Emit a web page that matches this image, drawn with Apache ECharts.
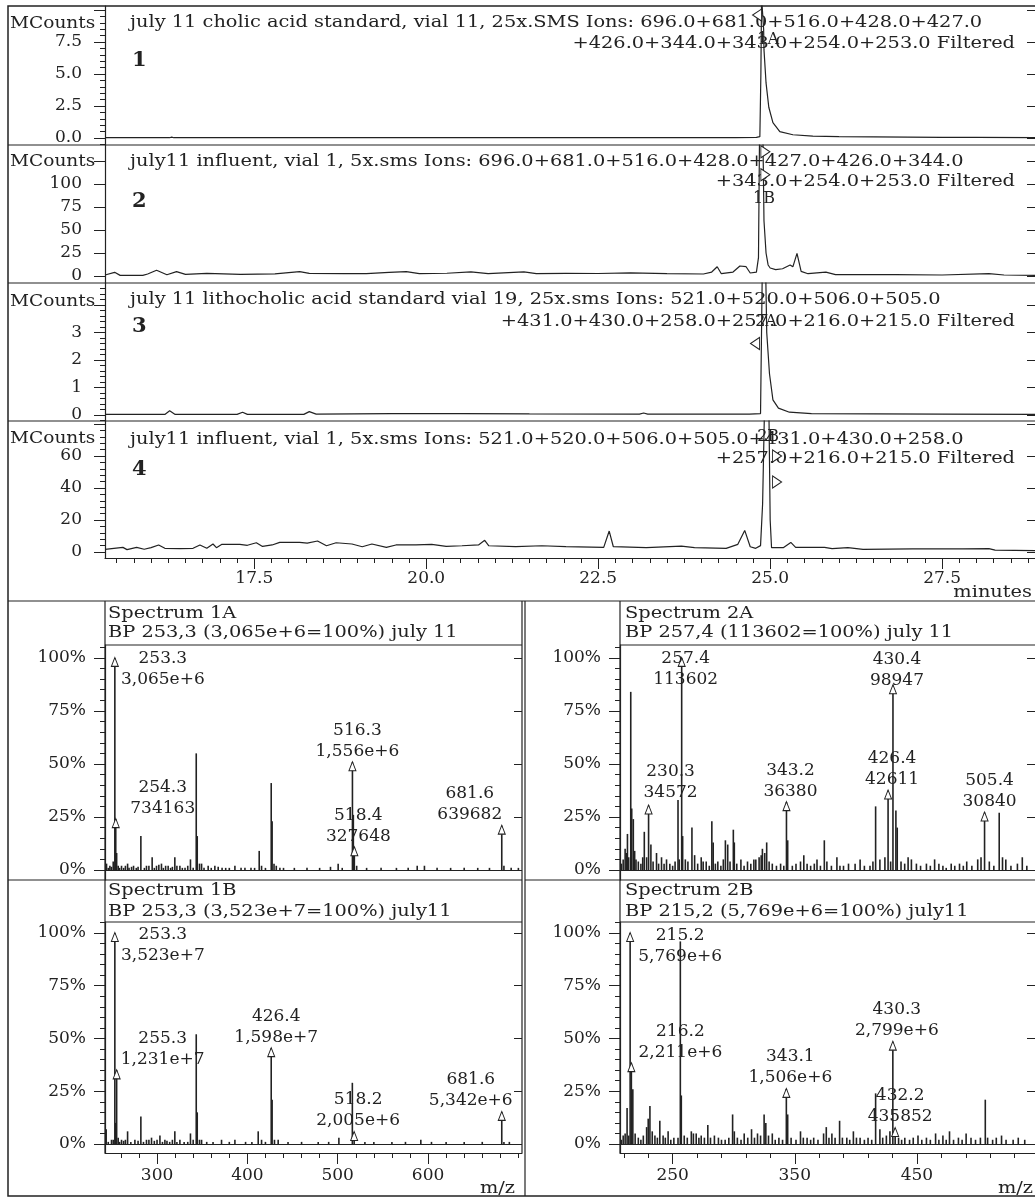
<!DOCTYPE html>
<html>
<head>
<meta charset="utf-8">
<title>Bile acid chromatograms and spectra</title>
<script src="https://cdn.jsdelivr.net/npm/echarts@6/dist/echarts.min.js"></script>
<style>
  html, body { margin: 0; padding: 0; background: #fff; }
  #main { width: 1035px; height: 1198px; }
</style>
</head>
<body>
<div id="main"></div>
<script>
  // chromatogram 1: cholic acid standard (MCounts vs minutes)
  var chromTime1 = [15.33, 16.0, 16.27, 16.3, 16.33, 17.5, 19.0, 20.5, 22.0, 23.5, 24.5, 24.8, 24.85, 24.865, 24.875, 24.9, 24.905, 24.91, 24.94, 24.98, 25.04, 25.14, 25.33, 25.62, 26.0, 26.5, 27.0, 27.5, 28.0, 28.85]
  var chromInt1 = [0.02, 0.02, 0.02, 0.07, 0.02, 0.02, 0.02, 0.02, 0.02, 0.03, 0.03, 0.04, 0.1, 5.0, 11, 11, 8.5, 6.9, 4.3, 2.4, 1.2, 0.5, 0.25, 0.15, 0.1, 0.08, 0.06, 0.05, 0.04, 0.03]
  // chromatogram 2: influent, cholic acid ions
  var chromTime2 = [15.33, 15.47, 15.55, 15.88, 15.95, 16.08, 16.23, 16.37, 16.5, 16.81, 17.3, 17.8, 18.16, 18.3, 18.8, 19.13, 19.46, 19.71, 19.9, 20.3, 20.65, 20.9, 21.42, 21.6, 22.03, 22.5, 22.97, 23.5, 24.03, 24.15, 24.23, 24.29, 24.46, 24.56, 24.65, 24.71, 24.8, 24.83, 24.845, 24.895, 24.91, 24.94, 24.97, 25.0, 25.08, 25.18, 25.29, 25.33, 25.39, 25.45, 25.55, 25.81, 25.95, 26.82, 27.5, 28.18, 28.4, 28.85]
  var chromInt2 = [1.1, 4, 0.7, 0.7, 2.2, 6.2, 1.4, 4.7, 1.8, 2.9, 1.8, 2.4, 4.7, 2.9, 2.5, 2.5, 4, 4.7, 2.5, 3, 4.4, 2.5, 4.4, 2.5, 2.9, 2.7, 3.3, 2.6, 2.2, 4.3, 10.1, 2.5, 4.3, 10.9, 10.1, 3.3, 4.3, 20, 150, 150, 60, 25, 12, 8.7, 7, 7.9, 12, 10, 24.6, 5, 2.5, 4.3, 1.5, 1.5, 1.1, 2.5, 1.1, 0.7]
  // chromatogram 3: lithocholic acid standard
  var chromTime3 = [15.33, 16.2, 16.27, 16.35, 17.25, 17.33, 17.4, 18.22, 18.3, 18.4, 19.5, 20.5, 21.5, 23.1, 23.16, 23.22, 24.7, 24.86, 24.885, 24.935, 24.95, 24.99, 25.04, 25.12, 25.28, 25.6, 26.5, 27.5, 28.85]
  var chromInt3 = [0.02, 0.02, 0.15, 0.02, 0.02, 0.1, 0.02, 0.02, 0.12, 0.03, 0.05, 0.05, 0.04, 0.03, 0.07, 0.03, 0.03, 0.05, 5.2, 5.2, 3.0, 1.5, 0.55, 0.25, 0.1, 0.05, 0.04, 0.03, 0.02]
  // chromatogram 4: influent, lithocholic acid ions
  var chromTime4 = [15.33, 15.59, 15.65, 15.79, 15.9, 16.0, 16.11, 16.2, 16.42, 16.61, 16.71, 16.81, 16.9, 16.95, 17.03, 17.29, 17.4, 17.53, 17.62, 17.76, 17.87, 18.16, 18.27, 18.42, 18.55, 18.69, 18.92, 19.07, 19.21, 19.42, 19.56, 19.85, 20.08, 20.29, 20.52, 20.76, 20.85, 20.91, 21.3, 21.68, 22.03, 22.58, 22.66, 22.72, 23.2, 23.71, 23.9, 24.36, 24.53, 24.63, 24.71, 24.79, 24.86, 24.89, 24.92, 24.98, 25.0, 25.02, 25.19, 25.3, 25.37, 25.79, 25.9, 26.13, 26.35, 27.07, 27.8, 28.18, 28.27, 28.85]
  var chromInt4 = [1.7, 2.9, 1.5, 2.9, 1.7, 2.7, 4.4, 2.3, 2.1, 2.3, 4.4, 2.3, 5.0, 2.7, 4.8, 4.8, 4.2, 5.8, 3.5, 4.4, 6.0, 6.0, 5.6, 6.9, 3.9, 5.8, 5.0, 3.3, 5.0, 2.9, 4.4, 4.4, 4.8, 3.5, 3.9, 4.4, 7.3, 3.9, 3.3, 3.9, 3.3, 2.9, 13.1, 3.3, 2.7, 3.7, 2.7, 2.3, 4.8, 13.5, 3.3, 2.3, 4, 30, 95, 95, 20, 2.7, 2.7, 6.0, 2.9, 2.9, 2.1, 2.7, 1.7, 1.9, 1.9, 2.1, 1.2, 0.8]

  var chromTitleA = [
    'july 11 cholic acid standard, vial 11, 25x.SMS Ions: 696.0+681.0+516.0+428.0+427.0',
    'july11 influent, vial 1, 5x.sms Ions: 696.0+681.0+516.0+428.0+427.0+426.0+344.0',
    'july 11 lithocholic acid standard vial 19, 25x.sms Ions: 521.0+520.0+506.0+505.0',
    'july11 influent, vial 1, 5x.sms Ions: 521.0+520.0+506.0+505.0+431.0+430.0+258.0'
  ]
  var chromTitleB = [
    '+426.0+344.0+343.0+254.0+253.0 Filtered',
    '+343.0+254.0+253.0 Filtered',
    '+431.0+430.0+258.0+257.0+216.0+215.0 Filtered',
    '+257.0+216.0+215.0 Filtered'
  ]
  // spectrum markers on the chromatograms
  var chromMarkText = ['1A', '1B', '2A', '2B']
  var chromMarkTextT = [24.97, 24.91, 24.94, 24.97]
  var chromMarkTextV = [7.7, 84, 3.4, 72]
  var chromArrowT = [[24.81], [24.93, 24.93], [24.78], [25.1, 25.1]]
  var chromArrowV = [[9.6], [135, 110], [2.6], [60, 43.75]]
  var chromArrowDir = ['left', 'right', 'left', 'right']

  // mass spectra: [m/z, relative intensity %]
  var spec1A = [[243.5, 2], [244.1, 3], [246, 1], [247.8, 2], [249.5, 1.5], [251.5, 4], [255.3, 8], [257, 2], [258.5, 1], [260.7, 2], [263, 1], [265, 2], [267.4, 3], [269, 1], [271.8, 1.5], [274, 2], [277, 1], [279, 1.5], [282.1, 16], [286, 1], [288.3, 2], [291, 2], [294.6, 6], [297, 1], [299.4, 2], [302, 2.5], [304.9, 3], [307, 1], [309.5, 2], [312.3, 2], [315, 1], [317, 1.5], [319.7, 6], [322, 2], [325.3, 2], [328, 1], [331, 1], [334, 2], [337, 5], [340, 1], [343.4, 55], [344.5, 16], [347, 3], [349.3, 3], [352, 1], [356.6, 2], [360, 1], [364, 2], [367.7, 1.5], [372, 1], [376, 1], [380, 1], [386.2, 2], [393, 1], [397.3, 1], [404, 1], [408, 1], [413.1, 9], [415.7, 2], [420, 1], [426.4, 41], [427.4, 23], [429.5, 3], [432, 2], [436, 1], [440, 1], [452, 1], [466, 1], [480, 1], [492, 1.5], [500.5, 3], [505, 1], [517.3, 26], [521, 2], [532, 1], [548, 1], [565, 1], [578, 1], [588, 2], [596, 2], [610, 1], [625, 1], [640, 1], [655, 1], [668, 1], [684, 2], [692, 1], [700, 1]]
  var spec1B = [[243.7, 7], [246, 1], [249.6, 2], [251.5, 2], [254.3, 10], [257, 3], [258.5, 1], [260.7, 2], [263, 1.5], [265, 2], [267.4, 6], [271, 1], [275.5, 2], [279, 1.5], [282.1, 13], [285, 1], [288.3, 2], [291, 2], [293.9, 3], [297, 1.5], [300, 2], [303.2, 4], [306, 1], [308.7, 2], [311, 1.5], [314, 1], [317, 2], [319.7, 6], [322, 1], [325.3, 2], [330, 1], [334, 1], [337, 5], [340, 2], [343.4, 52], [344.5, 15], [347, 2], [349.3, 2], [355, 1], [362, 1], [371.4, 2], [380, 1], [386.2, 2], [398, 1], [405, 1], [412, 6], [415.7, 2], [420, 1], [427.4, 21], [430, 2], [434.1, 2], [445, 1], [460, 1], [478.4, 1], [490, 1], [501.3, 3], [516.2, 29], [530.1, 1], [540, 1], [560, 1], [575, 1], [592, 2], [603.8, 1], [620, 1], [640, 1], [660, 1], [684, 1], [690, 1]]
  var spec2A = [[208, 3], [209.5, 5], [211.1, 10], [212, 8], [213, 17], [214, 6], [215.7, 84], [216.5, 29], [217.8, 24], [218.9, 9], [220, 5], [221.9, 4], [224, 3], [225.5, 6], [226.8, 18], [228.7, 6], [232.2, 12], [234, 4], [236.8, 8], [238.5, 3], [240.9, 6], [243, 3], [245, 5], [247.7, 3], [250, 2], [252, 4], [254.4, 33], [255.4, 5], [258.2, 16], [260.4, 5], [262.5, 4], [265.8, 20], [268, 7], [270.5, 3], [273.4, 6], [275, 4], [277.5, 4], [280, 2], [282.1, 23], [283.2, 13], [285, 3], [287, 4], [289.5, 2], [291.5, 5], [293.2, 14], [295.1, 12], [297, 4], [299.7, 19], [300.5, 13], [302.5, 3], [305.9, 5], [308.5, 2], [311.3, 4], [314, 3], [316.5, 5], [318.1, 5], [320.8, 6], [322.5, 7], [323.5, 10], [325.4, 8], [327, 13], [329, 4], [331.6, 3], [335, 2], [338.4, 3], [341, 2], [344.2, 14], [348, 2], [351, 3], [354.7, 4], [357.4, 7], [360.1, 3], [363, 2], [366, 3], [368.2, 5], [371, 2], [374.2, 14], [376.3, 4], [380, 2], [384.5, 6], [387, 2], [389.9, 2], [394, 3], [399.4, 3], [403.5, 5], [407, 2], [411.6, 2], [414, 4], [416.2, 30], [419.7, 5], [423.8, 6], [428.5, 4], [432.8, 28], [433.9, 20], [437, 4], [440, 3], [442.8, 6], [445.5, 5], [449.6, 3], [453, 2], [457.8, 3], [461, 2], [464.5, 5], [468, 3], [471.3, 2], [474, 1], [478.1, 3], [481, 2], [484.9, 3], [488, 2], [490.8, 4], [495, 2], [499.8, 5], [502.5, 6], [509.3, 4], [513, 2], [517.4, 27], [520.1, 6], [522.8, 5], [527, 2], [532.3, 3], [536.3, 6], [540, 2]]
  var spec2B = [[208, 2], [209.5, 4], [211.1, 5], [212.7, 17], [214, 4], [217.4, 26], [219.3, 5], [221.9, 3], [224, 2], [226, 4], [228.7, 8], [230, 12], [231.4, 18], [233.3, 6], [235.5, 4], [237.5, 3], [239.5, 11], [242.2, 4], [244, 3], [246.3, 6], [248.5, 2], [251, 3], [254.4, 3], [256.3, 96], [257.1, 23], [259.5, 4], [262, 3], [265.3, 6], [267, 5], [269.3, 5], [271.5, 3], [273.4, 4], [276, 3], [278.8, 9], [281, 3], [284.2, 4], [287.5, 3], [290, 2], [293, 2], [296, 3], [299.1, 14], [300.5, 6], [303, 3], [306, 2], [308.6, 5], [311.5, 3], [314.6, 7], [317, 3], [319.5, 5], [322, 4], [324.9, 14], [326.3, 10], [328.5, 4], [331.6, 5], [334, 2], [337, 3], [340, 2], [344.2, 14], [347, 3], [351, 2], [354.7, 6], [357, 3], [360.1, 3], [363, 2], [365.5, 3], [369, 2], [373.6, 5], [375.8, 8], [378, 3], [380.4, 5], [383, 3], [386.7, 11], [389, 3], [392.6, 3], [395, 2], [398, 6], [400.5, 3], [403.5, 3], [407, 2], [410, 3], [413, 2], [416.2, 24], [419.7, 7], [422, 3], [425, 4], [427.9, 6], [435, 3], [437.5, 2], [440.1, 3], [444, 2], [447, 3], [450.9, 4], [454, 2], [457.8, 3], [461, 2], [465.3, 5], [468, 2], [471.3, 4], [474, 2], [476.7, 6], [480, 2], [484, 3], [487, 2], [490.3, 5], [494.3, 3], [498, 2], [502, 3], [506, 21], [507.9, 3], [512, 2], [515, 3], [519.3, 4], [523, 2], [528.8, 2], [533, 3], [538.3, 2]]

  // labelled peaks
  var peak1AMz = [253.3, 254.3, 516.3, 518.4, 681.6]
  var peak1AInt = [100, 24, 50.8, 10.7, 20.9]
  var peak1AText = ['253.3\n3,065e+6', '254.3\n734163', '516.3\n1,556e+6', '518.4\n327648', '681.6\n639682']
  var peak1BMz = [253.3, 255.3, 426.4, 518.2, 681.6]
  var peak1BInt = [100, 34.9, 45.4, 5.7, 15.2]
  var peak1BText = ['253.3\n3,523e+7', '255.3\n1,231e+7', '426.4\n1,598e+7', '518.2\n2,005e+6', '681.6\n5,342e+6']
  var peak2AMz = [230.3, 257.4, 343.2, 426.4, 430.4, 505.4]
  var peak2AInt = [30.4, 100, 32.0, 37.5, 87.1, 27.1]
  var peak2AText = ['230.3\n34572', '257.4\n113602', '343.2\n36380', '426.4\n42611', '430.4\n98947', '505.4\n30840']
  var peak2BMz = [215.2, 216.2, 343.1, 430.3, 432.2]
  var peak2BInt = [100, 38.3, 26.1, 48.5, 7.6]
  var peak2BText = ['215.2\n5,769e+6', '216.2\n2,211e+6', '343.1\n1,506e+6', '430.3\n2,799e+6', '432.2\n435852']

  var specName = ['Spectrum 1A', 'Spectrum 1B', 'Spectrum 2A', 'Spectrum 2B']
  var specBP = ['BP 253,3 (3,065e+6=100%) july 11', 'BP 253,3 (3,523e+7=100%) july11', 'BP 257,4 (113602=100%) july 11', 'BP 215,2 (5,769e+6=100%) july11']

  // label shifts (px) so the peak labels sit as in the original
  var shift1A = [[48, 33], [47, 0], [5, 0], [4, 0], [-32, 0]]
  var shift1B = [[48, 34], [46, 0], [5, 0], [4, 0], [-31, 0]]
  var shift2A = [[22, -2], [4, 33], [4, 0], [4, 0], [4, 6], [5, 0]]
  var shift2B = [[50, 35], [49, 0], [4, 0], [4, 0], [5, 0]]

  var FONT = 'DejaVu Serif'
  var INK = '#222'
  var STRETCH = 1.21   // the original lettering is drawn wide

  function zip (xs, ys) {
    return xs.map(function (x, i) { return [x, ys[i]] })
  }
  function steps (a, b, s) {
    var out = []
    for (var v = a; v <= b + 1e-9; v += s) out.push(Math.round(v * 1000) / 1000)
    return out
  }

  var grid = []
  var xAxis = []
  var yAxis = []
  var series = []
  var graphic = []

  function addGrid (g) { grid.push(g); return grid.length - 1 }
  function addX (o) { xAxis.push(o); return xAxis.length - 1 }
  function addY (o) { yAxis.push(o); return yAxis.length - 1 }

  function valueY (gi, min, max, labels, ticks, minor, fmt, margin, rightInside) {
    var main = addY({
      gridIndex: gi, type: 'value', min: min, max: max, position: 'left',
      axisLine: { show: true, onZero: false, lineStyle: { color: INK, width: 1.2 } },
      axisTick: { show: true, customValues: ticks, length: 11, lineStyle: { color: INK } },
      axisLabel: { show: true, customValues: labels, formatter: fmt, margin: margin, fontFamily: FONT, fontSize: 17, color: INK },
      splitLine: { show: false }
    })
    if (minor.length) {
      addY({
        gridIndex: gi, type: 'value', min: min, max: max, position: 'left',
        axisLine: { show: false, onZero: false },
        axisTick: { show: true, customValues: minor, length: 5, lineStyle: { color: INK } },
        axisLabel: { show: false }, splitLine: { show: false }
      })
    }
    addY({
      gridIndex: gi, type: 'value', min: min, max: max, position: 'right',
      axisLine: { show: false, onZero: false },
      axisTick: { show: true, inside: rightInside, customValues: ticks, length: 8, lineStyle: { color: INK } },
      axisLabel: { show: false }, splitLine: { show: false }
    })
    return main
  }

  function hiddenX (gi, min, max) {
    return addX({ gridIndex: gi, type: 'value', min: min, max: max, show: false })
  }

  function valueX (gi, min, max, majors, minors, fmt, margin) {
    var main = addX({
      gridIndex: gi, type: 'value', min: min, max: max, position: 'bottom',
      axisLine: { show: true, onZero: false, lineStyle: { color: INK, width: 1.2 } },
      axisTick: { show: true, customValues: majors, length: 11, lineStyle: { color: INK } },
      axisLabel: { show: true, customValues: majors, formatter: fmt, margin: margin, fontFamily: FONT, fontSize: 17, color: INK },
      splitLine: { show: false }
    })
    addX({
      gridIndex: gi, type: 'value', min: min, max: max, position: 'bottom',
      axisLine: { show: false, onZero: false },
      axisTick: { show: true, customValues: minors, length: 5, lineStyle: { color: INK } },
      axisLabel: { show: false }, splitLine: { show: false }
    })
    return main
  }

  // free text, anchored at (x, middle y), widened like the original print
  function text (t, x, y, align, size, weight, stretch) {
    graphic.push({
      type: 'text', silent: true, x: x, y: y, scaleX: stretch || STRETCH,
      style: {
        text: t, fill: INK, fontFamily: FONT, fontSize: size || 16, fontWeight: weight || 'normal',
        align: align || 'left', verticalAlign: 'middle'
      }
    })
  }

  // ---- chromatograms ----
  var chromTimes = [chromTime1, chromTime2, chromTime3, chromTime4]
  var chromInts = [chromInt1, chromInt2, chromInt3, chromInt4]
  var chromBox = [[6, 139], [145, 138], [283, 138], [421, 137]]
  var chromY = [
    { min: -0.55, max: 10.31, labels: [0, 2.5, 5, 7.5], ticks: [0, 2.5, 5, 7.5, 10], minor: steps(-0.5, 10, 0.5), fmt: function (v) { return v.toFixed(1) } },
    { min: -7.6, max: 142.4, labels: [0, 25, 50, 75, 100], ticks: [0, 25, 50, 75, 100, 125], minor: [], fmt: function (v) { return String(v) } },
    { min: -0.22, max: 4.8, labels: [0, 1, 2, 3], ticks: [0, 1, 2, 3, 4], minor: steps(-0.2, 4.6, 0.2), fmt: function (v) { return String(v) } },
    { min: -3.75, max: 81.9, labels: [0, 20, 40, 60], ticks: [0, 20, 40, 60, 80], minor: steps(0, 80, 4), fmt: function (v) { return String(v) } }
  ]
  var tMin = 15.33
  var tMax = 28.85
  var mcountsY = [24, 162, 302, 439]
  var numberY = [61, 202, 327, 470]
  var titleAY = [23, 162, 300, 440]
  var titleBY = [44, 182, 322, 459]

  for (var i = 0; i < 4; i++) {
    var gi = addGrid({ left: 105, top: chromBox[i][0], width: 933, height: chromBox[i][1] })
    var xi = i < 3 ? hiddenX(gi, tMin, tMax)
      : valueX(gi, tMin, tMax, [17.5, 20, 22.5, 25, 27.5], steps(15.5, 28.75, 0.25), function (v) { return v.toFixed(1) }, 12)
    var c = chromY[i]
    var yi = valueY(gi, c.min, c.max, c.labels, c.ticks, c.minor, c.fmt, 23, true)

    var marks = chromArrowT[i].map(function (t, k) {
      return {
        coord: [t, chromArrowV[i][k]], symbol: 'triangle',
        symbolRotate: chromArrowDir[i] === 'left' ? 90 : -90, symbolSize: [12, 9],
        itemStyle: { color: '#fff', borderColor: INK, borderWidth: 1, opacity: 1 },
        label: { show: false }
      }
    })
    marks.push({
      coord: [chromMarkTextT[i], chromMarkTextV[i]], symbol: 'circle', symbolSize: 1,
      itemStyle: { color: 'transparent', opacity: 1 },
      label: { show: true, position: 'inside', formatter: chromMarkText[i], fontFamily: FONT, fontSize: 16, color: INK }
    })

    series.push({
      type: 'line', xAxisIndex: xi, yAxisIndex: yi, data: zip(chromTimes[i], chromInts[i]),
      showSymbol: false, symbol: 'none', silent: true, clip: true,
      lineStyle: { color: INK, width: 1.2 },
      markPoint: { silent: true, data: marks }
    })

    text('MCounts', 10, mcountsY[i], 'left', 16, 'normal', 1.16)
    text(String(i + 1), 132, numberY[i], 'left', 20, 'bold', 1.05)
    text(chromTitleA[i], 130, titleAY[i])
    text(chromTitleB[i], 1015, titleBY[i], 'right')
  }
  text('minutes', 1032, 593, 'right')

  // ---- spectra ----
  function spectrum (gi, xi, yi, sticks, mz, inten, labels, shifts) {
    series.push({
      type: 'bar', xAxisIndex: xi, yAxisIndex: yi, barWidth: 1.6, silent: true,
      data: sticks.concat(zip(mz, inten)),
      itemStyle: { color: INK },
      markLine: {
        silent: true, symbol: ['none', 'none'], label: { show: false },
        lineStyle: { color: INK, width: 1.2, type: 'solid' },
        data: [{ yAxis: 0 }]
      }
    })
    series.push({
      type: 'scatter', xAxisIndex: xi, yAxisIndex: yi, silent: true, z: 3,
      data: zip(mz, inten), symbol: 'triangle', symbolSize: [7, 9], symbolOffset: [0, 4],
      itemStyle: { color: '#fff', borderColor: INK, borderWidth: 1, opacity: 1 }
    })
    series.push({
      type: 'scatter', xAxisIndex: xi, yAxisIndex: yi, silent: true, z: 4,
      symbolSize: 1, itemStyle: { color: 'transparent', opacity: 1 },
      label: { show: true, position: 'top', distance: 0, fontFamily: FONT, fontSize: 17, lineHeight: 21, color: INK },
      data: mz.map(function (m, k) {
        return { value: [m, inten[k]], label: { formatter: labels[k], offset: shifts[k] } }
      })
    })
  }

  var pctFmt = function (v) { return v + '%' }
  var pctMajor = [0, 25, 50, 75, 100]
  var pctMinor = steps(0, 105, 5)

  // 1A
  var g1A = addGrid({ left: 105, top: 645, width: 417, height: 235 })
  var x1A = hiddenX(g1A, 242.4, 704)
  var y1A = valueY(g1A, -4.72, 106.1, pctMajor, pctMajor, pctMinor, pctFmt, 19, true)
  spectrum(g1A, x1A, y1A, spec1A, peak1AMz, peak1AInt, peak1AText, shift1A)
  // 1B
  var g1B = addGrid({ left: 105, top: 922, width: 417, height: 231 })
  var x1B = valueX(g1B, 242.4, 704, [300, 400, 500, 600], steps(260, 700, 20), function (v) { return String(v) }, 14)
  var y1B = valueY(g1B, -4.27, 105.2, pctMajor, pctMajor, pctMinor, pctFmt, 19, true)
  spectrum(g1B, x1B, y1B, spec1B, peak1BMz, peak1BInt, peak1BText, shift1B)
  // 2A
  var g2A = addGrid({ left: 620, top: 645, width: 418, height: 235 })
  var x2A = hiddenX(g2A, 206.9, 546.7)
  var y2A = valueY(g2A, -4.72, 106.1, pctMajor, pctMajor, pctMinor, pctFmt, 19, true)
  spectrum(g2A, x2A, y2A, spec2A, peak2AMz, peak2AInt, peak2AText, shift2A)
  // 2B
  var g2B = addGrid({ left: 620, top: 922, width: 418, height: 231 })
  var x2B = valueX(g2B, 206.9, 546.7, [250, 350, 450], steps(210, 530, 20), function (v) { return String(v) }, 14)
  var y2B = valueY(g2B, -4.27, 105.2, pctMajor, pctMajor, pctMinor, pctFmt, 19, true)
  spectrum(g2B, x2B, y2B, spec2B, peak2BMz, peak2BInt, peak2BText, shift2B)

  var specLeft = [108, 108, 625, 625]
  var specNameY = [614, 891, 614, 891]
  var specBPY = [633, 912, 633, 912]
  for (var s = 0; s < 4; s++) {
    text(specName[s], specLeft[s], specNameY[s])
    text(specBP[s], specLeft[s], specBPY[s])
  }
  text('m/z', 515, 1189, 'right')
  text('m/z', 1033, 1189, 'right')

  // panel frame
  var frameLines = [
    [8, 145, 1035, 145], [8, 283, 1035, 283], [8, 421, 1035, 421], [8, 601, 1035, 601],
    [105, 645, 522, 645], [620, 645, 1035, 645],
    [8, 880, 522, 880], [525, 880, 1035, 880],
    [105, 922, 522, 922], [620, 922, 1035, 922],
    [105, 601, 105, 1153], [522, 601, 522, 1153], [525, 601, 525, 1196], [620, 601, 620, 1153]
  ]
  graphic.push({
    type: 'rect', silent: true,
    shape: { x: 8, y: 6, width: 1100, height: 1190 },
    style: { fill: 'none', stroke: INK, lineWidth: 1.5 }
  })
  frameLines.forEach(function (l) {
    graphic.push({ type: 'line', silent: true, shape: { x1: l[0], y1: l[1], x2: l[2], y2: l[3] }, style: { stroke: INK, lineWidth: 1.2 } })
  })

  var chart = echarts.init(document.getElementById('main'))
  chart.setOption({
    animation: false,
    backgroundColor: '#fff',
    grid: grid,
    xAxis: xAxis,
    yAxis: yAxis,
    series: series,
    graphic: graphic
  })
</script>
</body>
</html>
